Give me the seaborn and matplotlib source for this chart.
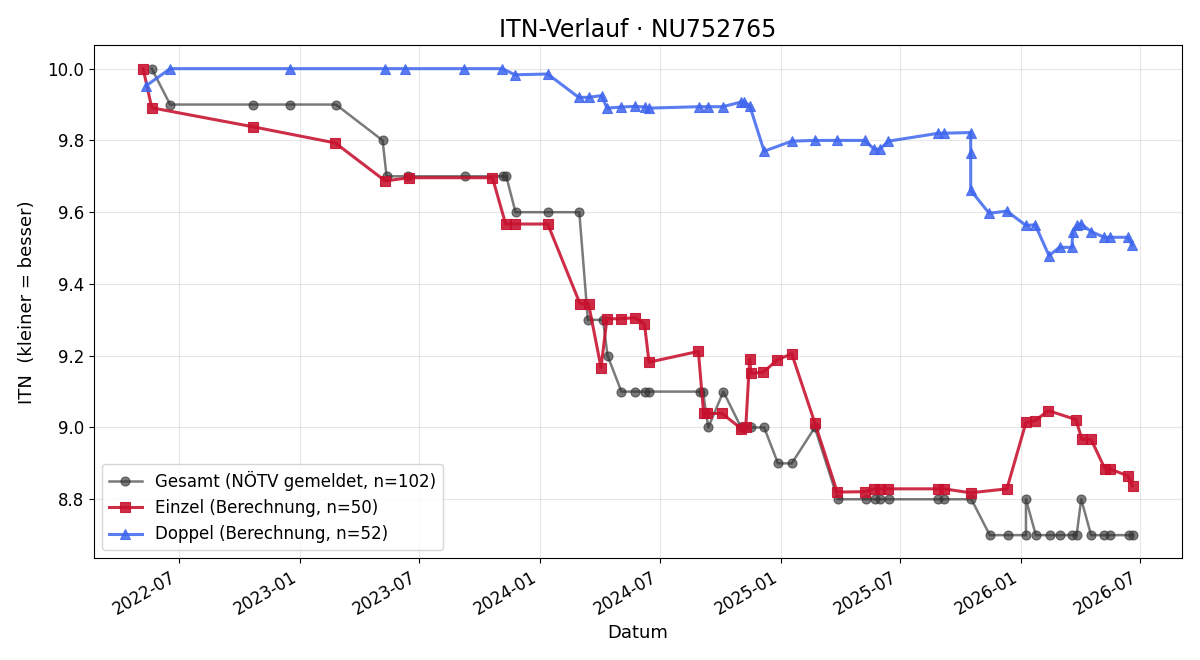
import pandas as pd
import matplotlib
matplotlib.use("Agg")
import matplotlib.pyplot as plt
import seaborn as sns

# Gesamt (NÖTV gemeldet)
gesamt_dates = [
    "2022-05-21", "2022-06-18", "2022-10-22", "2022-12-17", "2023-02-25",
    "2023-05-07", "2023-05-13", "2023-06-15", "2023-09-09", "2023-11-06",
    "2023-11-11", "2023-11-25", "2024-01-14", "2024-03-01", "2024-03-14",
    "2024-04-06", "2024-04-13", "2024-05-04", "2024-05-25", "2024-06-09",
    "2024-06-15", "2024-09-01", "2024-09-05", "2024-09-13", "2024-10-06",
    "2024-11-02", "2024-11-17", "2024-12-07", "2024-12-28", "2025-01-18",
    "2025-02-22", "2025-03-29", "2025-05-11", "2025-05-25", "2025-06-01",
    "2025-06-15", "2025-08-29", "2025-09-06", "2025-10-18", "2025-11-15",
    "2025-12-13", "2026-01-09", "2026-01-09", "2026-01-24", "2026-02-14",
    "2026-03-01", "2026-03-20", "2026-03-27", "2026-04-03", "2026-04-18",
    "2026-05-08", "2026-05-16", "2026-06-14", "2026-06-20",
]
gesamt_itn = [
    10.0, 9.9, 9.9, 9.9, 9.9, 9.8, 9.7, 9.7, 9.7, 9.7,
    9.7, 9.6, 9.6, 9.6, 9.3, 9.3, 9.2, 9.1, 9.1, 9.1,
    9.1, 9.1, 9.1, 9.0, 9.1, 9.0, 9.0, 9.0, 8.9, 8.9,
    9.0, 8.8, 8.8, 8.8, 8.8, 8.8, 8.8, 8.8, 8.8, 8.7,
    8.7, 8.7, 8.8, 8.7, 8.7, 8.7, 8.7, 8.7, 8.8, 8.7,
    8.7, 8.7, 8.7, 8.7,
]

# Einzel (Berechnung)
einzel_dates = [
    "2022-05-08", "2022-05-21", "2022-10-22", "2023-02-24", "2023-05-11",
    "2023-06-16", "2023-10-21", "2023-11-10", "2023-11-24", "2024-01-13",
    "2024-03-02", "2024-03-15", "2024-04-03", "2024-04-12", "2024-05-03",
    "2024-05-25", "2024-06-08", "2024-06-15", "2024-08-29", "2024-09-06",
    "2024-09-11", "2024-10-04", "2024-11-02", "2024-11-09", "2024-11-15",
    "2024-11-17", "2024-12-06", "2024-12-27", "2025-01-18", "2025-02-22",
    "2025-03-28", "2025-05-10", "2025-05-23", "2025-06-01", "2025-06-14",
    "2025-08-29", "2025-09-06", "2025-10-17", "2025-12-11", "2026-01-09",
    "2026-01-23", "2026-02-12", "2026-03-26", "2026-04-04", "2026-04-18",
    "2026-05-09", "2026-05-16", "2026-06-13", "2026-06-20",
]
einzel_itn = [
    10.0, 9.891, 9.838, 9.793, 9.687, 9.696, 9.696, 9.567, 9.567, 9.567,
    9.345, 9.345, 9.167, 9.303, 9.303, 9.306, 9.289, 9.182, 9.212, 9.039,
    9.039, 9.039, 8.997, 9.0, 9.191, 9.151, 9.154, 9.189, 9.205, 9.013,
    8.820, 8.821, 8.829, 8.829, 8.829, 8.829, 8.829, 8.818, 8.829, 9.014,
    9.019, 9.047, 9.022, 8.967, 8.967, 8.885, 8.885, 8.865, 8.837,
]

# Doppel (Berechnung)
doppel_dates = [
    "2022-05-13", "2022-06-18", "2022-12-17", "2023-05-11", "2023-06-10",
    "2023-09-08", "2023-11-05", "2023-11-24", "2024-01-13", "2024-02-29",
    "2024-03-15", "2024-04-04", "2024-04-12", "2024-05-04", "2024-05-25",
    "2024-06-09", "2024-06-15", "2024-08-30", "2024-09-12", "2024-10-05",
    "2024-11-02", "2024-11-07", "2024-11-15", "2024-12-07", "2025-01-18",
    "2025-02-22", "2025-03-28", "2025-05-09", "2025-05-23", "2025-06-01",
    "2025-06-14", "2025-08-29", "2025-09-06", "2025-10-17", "2025-10-17",
    "2025-10-17", "2025-11-14", "2025-12-11", "2026-01-09", "2026-01-23",
    "2026-02-13", "2026-03-01", "2026-03-20", "2026-03-21", "2026-03-27",
    "2026-04-03", "2026-04-18", "2026-05-08", "2026-05-16", "2026-06-13",
    "2026-06-19",
]
doppel_itn = [
    9.953, 10.0, 10.0, 10.0, 10.0, 10.0, 10.0, 9.983, 9.985, 9.92,
    9.92, 9.925, 9.89, 9.893, 9.895, 9.893, 9.89, 9.894, 9.894, 9.894,
    9.907, 9.907, 9.897, 9.77, 9.798, 9.80, 9.80, 9.80, 9.776, 9.776,
    9.798, 9.82, 9.82, 9.822, 9.766, 9.661, 9.597, 9.603, 9.563, 9.565,
    9.479, 9.502, 9.502, 9.546, 9.563, 9.567, 9.546, 9.53, 9.53, 9.53,
    9.509,
]

labels = [
    "Gesamt (NÖTV gemeldet, n=102)",
    "Einzel (Berechnung, n=50)",
    "Doppel (Berechnung, n=52)",
]

plt.rcParams["font.family"] = ["DejaVu Sans"]
plt.rcParams["font.size"] = 12

fig, ax = plt.subplots(figsize=(12, 6.6), dpi=100)

series = [
    (gesamt_dates, gesamt_itn, labels[0], "#333333", "o", 6.5, 1.8, 0.65),
    (einzel_dates, einzel_itn, labels[1], "#c8102e", "s", 7.5, 2.2, 0.88),
    (doppel_dates, doppel_itn, labels[2], "#3f66ee", "^", 7.5, 2.2, 0.85),
]
for dates, vals, lab, col, mk, ms, lw, a in series:
    df = pd.DataFrame({"Datum": pd.to_datetime(dates), "ITN": vals})
    sns.lineplot(
        data=df, x="Datum", y="ITN", ax=ax,
        estimator=None, sort=False,
        color=col, marker=mk, markersize=ms, mec=col, mew=0.8,
        linewidth=lw, alpha=a, label=lab,
    )

ax.set_title("ITN-Verlauf · NU752765", fontsize=17)
ax.set_xlabel("Datum", fontsize=13)
ax.set_ylabel("ITN  (kleiner = besser)", fontsize=13, labelpad=8)
ax.grid(True, alpha=0.3)
ax.legend(loc="lower left", fontsize=12)
fig.autofmt_xdate()

plt.tight_layout()
fig.savefig("out.png", dpi=100)
